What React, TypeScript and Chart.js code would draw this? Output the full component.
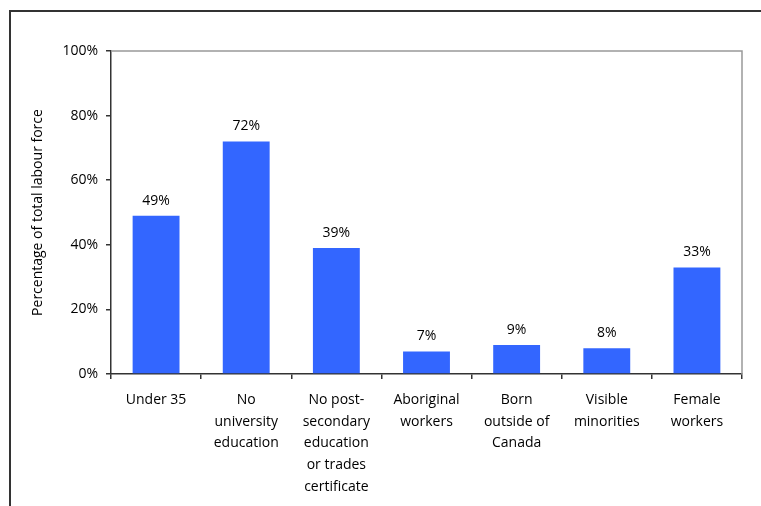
import React, { useEffect, useRef } from "react";
import { Chart, registerables } from "chart.js";

Chart.register(...registerables);

const categories: string[][] = [
  ["Under 35"],
  ["No", "university", "education"],
  ["No post-", "secondary", "education", "or trades", "certificate"],
  ["Aboriginal", "workers"],
  ["Born", "outside of", "Canada"],
  ["Visible", "minorities"],
  ["Female", "workers"],
];
const values: number[] = [49, 72, 39, 7, 9, 8, 33];
const valueLabels: string[] = ["49%", "72%", "39%", "7%", "9%", "8%", "33%"];
const yTicks: number[] = [0, 20, 40, 60, 80, 100];
const yTitle = "Percentage of total labour force";

const FONT = "'Open Sans', 'Noto Sans', sans-serif";

const decorPlugin = {
  id: "decor",
  beforeDraw(chart: any) {
    const { ctx, width, height } = chart;
    ctx.save();
    ctx.fillStyle = "#ffffff";
    ctx.fillRect(0, 0, width, height);
    ctx.restore();
  },
  afterDraw(chart: any) {
    const { ctx, chartArea, height, width } = chart;
    ctx.save();
    // outer frame
    ctx.strokeStyle = "#333333";
    ctx.lineWidth = 2;
    ctx.beginPath();
    ctx.moveTo(10, height);
    ctx.lineTo(10, 11);
    ctx.lineTo(width, 11);
    ctx.stroke();
    // plot frame top/right
    ctx.strokeStyle = "#999999";
    ctx.lineWidth = 1.5;
    ctx.beginPath();
    ctx.moveTo(chartArea.left, chartArea.top);
    ctx.lineTo(chartArea.right, chartArea.top);
    ctx.lineTo(chartArea.right, chartArea.bottom);
    ctx.stroke();
    // value labels
    const meta = chart.getDatasetMeta(0);
    ctx.fillStyle = "#000000";
    ctx.font = `14px ${FONT}`;
    ctx.textAlign = "center";
    ctx.textBaseline = "bottom";
    meta.data.forEach((bar: any, i: number) => {
      ctx.fillText(valueLabels[i], bar.x, bar.y - 8);
    });
    ctx.restore();
  },
};

export default function App() {
  const ref = useRef<HTMLCanvasElement>(null);
  useEffect(() => {
    if (!ref.current) return;
    const chart = new Chart(ref.current, {
      type: "bar",
      data: {
        labels: categories,
        datasets: [
          {
            data: values,
            backgroundColor: "#3366FF",
            borderWidth: 0,
            categoryPercentage: 0.52,
            barPercentage: 1,
          },
        ],
      },
      options: {
        animation: false,
        responsive: false,
        maintainAspectRatio: false,
        layout: { padding: { left: 0, top: 51, right: 19, bottom: 0 } },
        plugins: {
          legend: { display: false },
          tooltip: { enabled: false },
          title: { display: false },
        },
        scales: {
          x: {
            afterFit: (s: any) => {
              s.height = 132;
            },
            grid: {
              offset: true,
              drawOnChartArea: false,
              tickLength: 5,
              color: "#333333",
              lineWidth: 1.5,
            },
            border: { color: "#333333", width: 1.5 },
            ticks: {
              color: "#000000",
              padding: 10,
              maxRotation: 0,
              autoSkip: false,
              font: { family: FONT, size: 14, lineHeight: 1.55 },
            },
          },
          y: {
            min: 0,
            max: 100,
            afterFit: (s: any) => {
              s.width = 111;
            },
            afterBuildTicks: (s: any) => {
              s.ticks = yTicks.map((v) => ({ value: v }));
            },
            grid: {
              drawOnChartArea: false,
              tickLength: 5,
              color: "#333333",
              lineWidth: 1.5,
            },
            border: { color: "#333333", width: 1.5 },
            ticks: {
              color: "#000000",
              padding: 8,
              callback: (v: any) => `${v}%`,
              font: { family: FONT, size: 14 },
            },
            title: {
              display: true,
              text: yTitle,
              color: "#000000",
              padding: { top: 30, bottom: 0 },
              font: { family: FONT, size: 14 },
            },
          },
        },
      },
      plugins: [decorPlugin],
    });
    return () => chart.destroy();
  }, []);
  return (
    <div style={{ position: "absolute", left: 0, top: 0, width: 761, height: 506 }}>
      <canvas ref={ref} width={761} height={506} style={{ display: "block" }} />
    </div>
  );
}
